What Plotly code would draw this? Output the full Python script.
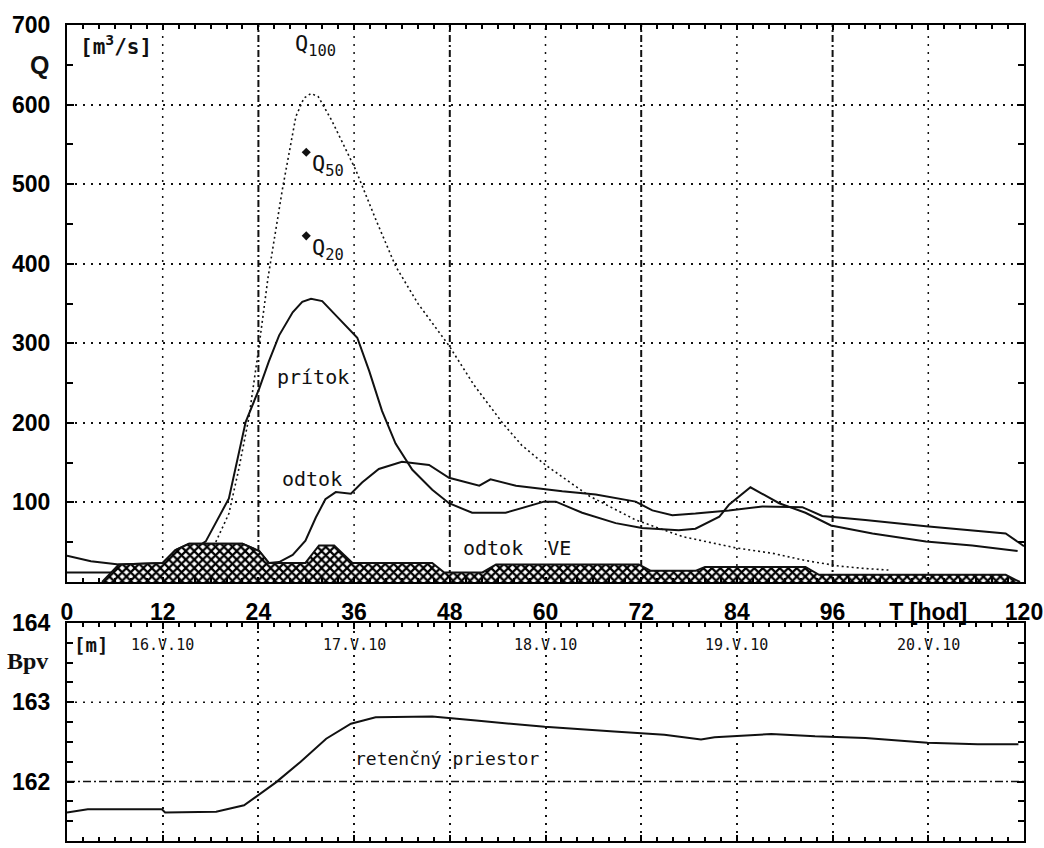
import plotly.graph_objects as go

# ---- flood hydrograph data (hours from 16.V.10 00:00) ----
HOURS_Q100 = [15, 17, 18.6, 20.3, 21.5, 22.8, 24.1, 25.2, 27, 28.7, 29.7, 30.6, 31.5, 33.2, 36.2,
              38.7, 41.2, 44, 47.9, 51, 54.6, 57, 60, 65.5, 71.3, 77.2, 83.8, 88.5, 92.6,
              96.8, 100, 103]
Q100 = [8, 25, 49, 86, 140, 206, 298, 382, 493, 585, 608, 614, 610, 580, 518,
        456, 397, 350, 297, 248, 200, 172, 147, 108, 78, 57, 43, 36, 27,
        20, 17, 15]

HOURS_PRITOK = [0, 6, 12, 15, 17.4, 20.3, 22.4, 24.1, 25.3, 26.6, 28.3, 29.5, 30.6, 32, 34.1,
                36.4, 37.9, 39.5, 41.2, 43.3, 45.8, 47.9, 50.8, 55, 59.8, 61.3, 64.6,
                68.8, 72.1, 76.7, 78.8, 81.8, 83, 85.7, 89.3, 92.6, 95.8, 101, 107.7,
                113.5, 119.2]
PRITOK = [12, 12, 20, 35, 51, 105, 201, 243, 277, 310, 339, 352, 356, 353, 331,
          307, 265, 215, 174, 141, 116, 99, 87, 87, 101, 101, 87,
          74, 68, 65, 67, 82, 97, 119, 99, 87, 71, 61, 51,
          46, 39]

HOURS_ODTOK = [0, 3, 6.5, 12, 13.6, 15.3, 22, 24.1, 25.3, 26.6, 28.3, 29.9, 31.2, 32.4,
               33.7, 35.6, 37, 39.1, 42, 45.4, 47.9, 51.7, 53.1, 56.3, 62.1, 66.3, 71.3,
               73.4, 75.9, 78.8, 83, 87.2, 92.2, 94.7, 100.1, 107.7, 117.7, 119.2, 120]
ODTOK = [33, 26, 22, 24, 40, 48, 48, 39, 24, 25, 34, 52, 81, 104,
         113, 111, 125, 142, 151, 147, 131, 121, 129, 121, 114, 110, 101,
         90, 84, 86, 90, 95, 94, 83, 78, 70, 61, 50, 45]

HOURS_VE = [4.4, 6.5, 12, 13.6, 15.3, 22, 24.1, 25.3, 29.9, 31.6, 33.5, 35.8, 45.8, 47.3,
            52.1, 53.8, 71.7, 73.2, 78.8, 80, 92.6, 94.3, 117.7, 119.5]
ODTOK_VE = [0, 22, 24, 40, 48, 48, 39, 24, 24, 46, 46, 24, 24, 12,
            12, 22, 22, 14, 14, 19, 19, 9, 9, 0]

# design discharges marked on the chart
DESIGN_HOUR = [30, 30]
DESIGN_Q = [540, 435]
DESIGN_NAMES = ["Q<sub>50</sub>", "Q<sub>20</sub>"]

# reservoir water level
HOURS_BPV = [0, 2.6, 11.9, 12.3, 18.7, 22.2, 26.2, 29.3, 32.5, 35.6, 38.7, 45.8, 51.3,
             59.9, 68.6, 74.9, 79.5, 81.2, 88.3, 93.8, 100.1, 107.9, 114.2, 119.3]
BPV = [161.61, 161.65, 161.65, 161.61, 161.62, 161.70, 161.99, 162.25, 162.54, 162.73,
       162.81, 162.82, 162.77, 162.69, 162.63, 162.59, 162.53, 162.56, 162.60, 162.57,
       162.55, 162.49, 162.47, 162.47]

HOUR_TICKS = [0, 12, 24, 36, 48, 60, 72, 84, 96, 108, 120]
HOUR_LABELS = ["0", "12", "24", "36", "48", "60", "72", "84", "96", "T [hod]", "120"]
Q_TICKS = [100, 200, 300, 400, 500, 600, 700]
H_TICKS = [162, 163, 164]
DOT_HOURS = [12, 36, 60, 84, 108]
DASHDOT_HOURS = [24, 48, 72, 96]
DATE_HOURS = [12, 36, 60, 84, 108]
DATE_LABELS = ["16.V.10", "17.V.10", "18.V.10", "19.V.10", "20.V.10"]

W, H = 1044, 848
X_DOM = [67 / W, 1024 / W]
Y_TOP = [1 - 582 / H, 1 - 25 / H]
Y_BOT = [1 - 841 / H, 1 - 623 / H]

NUM_FONT = dict(family="Liberation Sans Narrow, Liberation Sans, Arial, sans-serif",
                size=23, color="black", weight="bold")
MONO = "DejaVu Sans Mono, Liberation Mono, monospace"
DOTS = "2px,6px"
INK = "#111"

fig = go.Figure()

fig.add_trace(go.Scatter(x=HOURS_Q100, y=Q100, mode="lines",
                         line=dict(color=INK, width=1.6, dash="2px,3px")))
fig.add_trace(go.Scatter(x=HOURS_PRITOK, y=PRITOK, mode="lines",
                         line=dict(color=INK, width=2)))
fig.add_trace(go.Scatter(x=HOURS_ODTOK, y=ODTOK, mode="lines",
                         line=dict(color=INK, width=2)))
fig.add_trace(go.Scatter(x=HOURS_VE, y=ODTOK_VE, mode="lines", fill="tozeroy",
                         fillcolor="white",
                         fillpattern=dict(shape="x", fgcolor="black", bgcolor="white",
                                          size=6, solidity=0.6, fillmode="replace"),
                         line=dict(color=INK, width=2)))
fig.add_trace(go.Scatter(x=DESIGN_HOUR, y=DESIGN_Q, mode="markers",
                         marker=dict(symbol="diamond", size=7, color=INK)))

fig.add_trace(go.Scatter(x=HOURS_BPV, y=BPV, mode="lines", xaxis="x2", yaxis="y2",
                         line=dict(color=INK, width=2)))

shapes = []
for h in DOT_HOURS:
    shapes.append(dict(type="line", xref="x", yref="y domain", x0=h, x1=h, y0=0, y1=1,
                       line=dict(color=INK, width=1.5, dash=DOTS), layer="below"))
for h in DASHDOT_HOURS:
    shapes.append(dict(type="line", xref="x", yref="y domain", x0=h, x1=h, y0=0, y1=1,
                       line=dict(color=INK, width=2, dash="7px,3px,2px,3px"), layer="below"))
shapes.append(dict(type="line", xref="x2 domain", yref="y2", x0=0, x1=1, y0=H_TICKS[1], y1=H_TICKS[1],
                   line=dict(color=INK, width=1.5, dash=DOTS), layer="below"))
shapes.append(dict(type="line", xref="x2 domain", yref="y2", x0=0, x1=1, y0=H_TICKS[0], y1=H_TICKS[0],
                   line=dict(color=INK, width=1.5, dash="8px,3px,2px,3px"), layer="below"))

ann = []
def label(x, y, text, size=20, xanchor="center", xref="x", yref="y", family=MONO, weight="normal"):
    ann.append(dict(x=x, y=y, xref=xref, yref=yref, text=text, showarrow=False,
                    xanchor=xanchor, yanchor="middle",
                    font=dict(family=family, size=size, color=INK, weight=weight)))

label(1.4, 675, "[m<sup>3</sup>/s]", size=21, xanchor="left", weight="bold")
label(28.4, 674, "Q<sub>100</sub>", size=22, xanchor="left")
for hx, qv, name in zip(DESIGN_HOUR, DESIGN_Q, DESIGN_NAMES):
    label(hx + 0.5, qv - 17, name, size=22, xanchor="left")
label(30.8, 258, "prítok", size=20)
label(30.7, 130, "odtok", size=20)
label(56.4, 43, "odtok\u00a0\u00a0VE", size=20)
label(0.6, 163.72, "[m]", size=19, xanchor="left", xref="x2", yref="y2", weight="bold")
for hx, d in zip(DATE_HOURS, DATE_LABELS):
    label(hx, 163.72, d, size=15, xref="x2", yref="y2")
label(47.6, 162.29, "retenčný priestor", size=18, xref="x2", yref="y2")
label(39 / W, 1 - 65 / H, "Q", size=25, xref="paper", yref="paper",
      family="Liberation Sans, DejaVu Sans, sans-serif", weight="bold")
label(27 / W, 1 - 661 / H, "Bpv", size=24, xref="paper", yref="paper",
      family="Liberation Serif, DejaVu Serif, serif", weight="bold")

frame = dict(showline=True, linewidth=2, linecolor="black", mirror="ticks",
             ticks="inside", tickcolor="black", zeroline=False, automargin=False)
# extra tick-only axes for the fine ticks on the top and right frame edges
tick_only = dict(showline=False, showgrid=False, zeroline=False, showticklabels=False,
                 ticks="inside", tickcolor="black", tickwidth=1.5, automargin=False)

fig.update_layout(
    width=W, height=H, margin=dict(l=0, r=0, t=0, b=0, autoexpand=False),
    paper_bgcolor="white", plot_bgcolor="white", showlegend=False,
    shapes=shapes, annotations=ann,
    xaxis=dict(domain=X_DOM, range=[0, 120], anchor="y", tickmode="array",
               tickvals=HOUR_TICKS, ticktext=HOUR_LABELS, ticklen=5, tickwidth=1.5,
               showgrid=False, tickfont=NUM_FONT, ticklabelstandoff=8,
               ticklabeloverflow="allow",
               minor=dict(tickmode="linear", tick0=0, dtick=2, ticks="inside", ticklen=4,
                          tickwidth=1.5, tickcolor="black", showgrid=False),
               **frame),
    yaxis=dict(domain=Y_TOP, range=[0, 700], anchor="x", tickmode="array",
               tickvals=Q_TICKS, ticklen=7, tickwidth=1.5,
               showgrid=True, griddash=DOTS, gridcolor=INK, gridwidth=1.5,
               tickfont=NUM_FONT, ticklabelstandoff=10, ticklabeloverflow="allow",
               minor=dict(tickmode="linear", tick0=0, dtick=50, ticks="inside", ticklen=6,
                          tickwidth=1.5, tickcolor="black", showgrid=False),
               **frame),
    xaxis3=dict(overlaying="x", side="top", anchor="y", range=[0, 120],
                tickmode="linear", tick0=0, dtick=2, ticklen=4, **tick_only),
    yaxis3=dict(overlaying="y", side="right", anchor="x", range=[0, 700],
                tickmode="linear", tick0=0, dtick=50, ticklen=6, **tick_only),
    xaxis2=dict(domain=X_DOM, range=[0, 120], anchor="y2", tickmode="linear", tick0=0,
                dtick=12, showticklabels=False, ticklen=6, tickwidth=1.5,
                showgrid=True, griddash=DOTS, gridcolor=INK, gridwidth=1.5,
                minor=dict(tickmode="linear", tick0=0, dtick=2, ticks="inside", ticklen=4,
                           tickwidth=1.5, tickcolor="black", showgrid=False),
                **frame),
    yaxis2=dict(domain=Y_BOT, range=[161.25, 164], anchor="x2", tickmode="array",
                tickvals=H_TICKS, ticklen=7, tickwidth=1.5, showgrid=False,
                tickfont=NUM_FONT, ticklabelstandoff=10, ticklabeloverflow="allow",
                minor=dict(tickmode="linear", tick0=161.25, dtick=0.25, ticks="inside", ticklen=6,
                           tickwidth=1.5, tickcolor="black", showgrid=False),
                **frame),
    yaxis4=dict(overlaying="y2", side="right", anchor="x2", range=[161.25, 164],
                tickmode="linear", tick0=161.25, dtick=0.25, ticklen=6, **tick_only),
)

fig.write_html("out.html")
